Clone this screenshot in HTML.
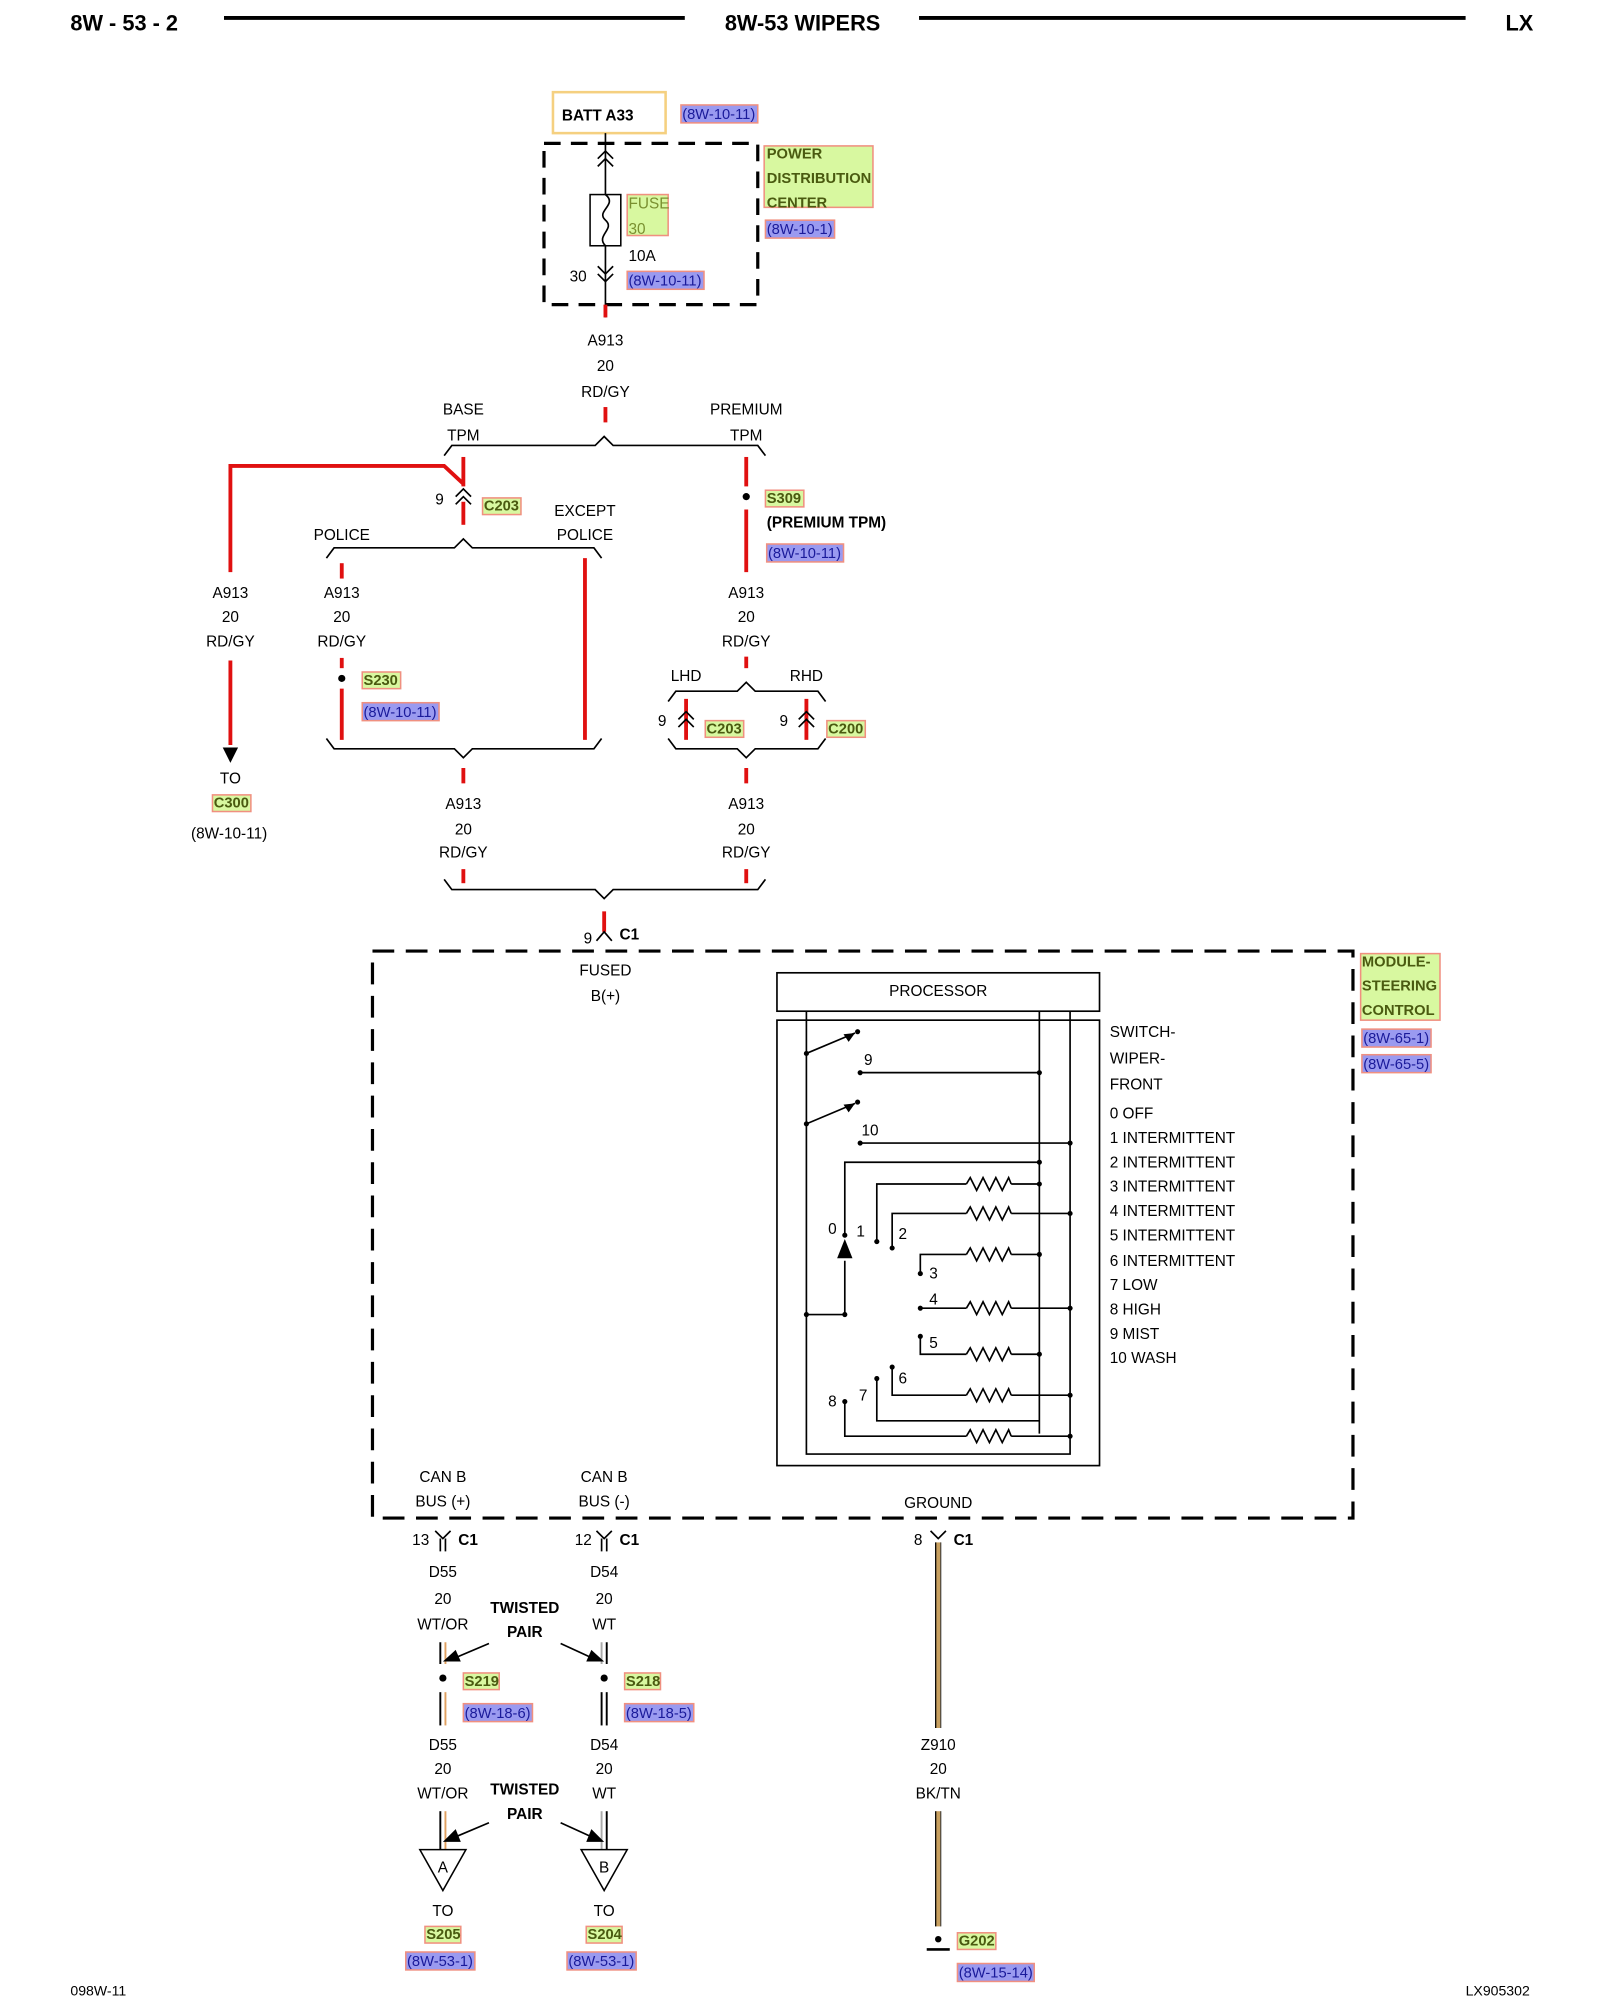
<!DOCTYPE html>
<html><head><meta charset="utf-8"><style>
html,body{margin:0;padding:0;background:#fff;}
svg{display:block;}
text{font-family:"Liberation Sans",sans-serif;font-size:12px;fill:#000;}
.c{text-anchor:middle;}
.b{font-weight:bold;}
.g{fill:#4a5a10;font-weight:bold;font-size:11.5px;}
.bl{fill:#1a1a9a;font-size:11.5px;}
.gb{fill:#d8f8a0;stroke:#f09080;stroke-width:1.2;}
.bb{fill:#9a9af0;stroke:#f09080;stroke-width:1.2;}
.r{stroke:#e01010;stroke-width:3;fill:none;}
.k{stroke:#000;stroke-width:1.3;fill:none;}
</style></head><body>
<svg width="1600" height="2000" viewBox="0 0 1250 1562.5" xmlns="http://www.w3.org/2000/svg">
<!-- header -->
<text x="55" y="24" class="b" style="font-size:17px">8W - 53 - 2</text>
<line x1="175" y1="14" x2="535" y2="14" stroke="#000" stroke-width="3"/>
<text x="627" y="24" class="b c" style="font-size:17px">8W-53 WIPERS</text>
<line x1="718" y1="14" x2="1145" y2="14" stroke="#000" stroke-width="3"/>
<text x="1187" y="24" class="b c" style="font-size:17px">LX</text>

<!-- PDC -->
<rect x="432" y="72" width="88" height="32" fill="none" stroke="#f5d080" stroke-width="2"/>
<text x="439" y="94" class="b">BATT A33</text>
<rect x="532" y="82" width="60" height="14" class="bb"/><text x="533" y="93" class="bl">(8W-10-11)</text>
<rect x="425" y="112" width="167" height="126" fill="none" stroke="#000" stroke-width="2.5" stroke-dasharray="13 8"/>
<line x1="473" y1="104" x2="473" y2="248" class="k"/>
<path d="M467 124 L473 118 L479 124 M467 130 L473 124 L479 130" class="k"/>
<path d="M467 208 L473 214 L479 208 M467 214 L473 220 L479 214" class="k"/>
<rect x="461" y="152" width="24" height="40" fill="#fff" stroke="#000" stroke-width="1.2"/>
<path d="M473 152 C483 160,465 165,473 172 C481 179,465 184,473 192" class="k"/>
<rect x="490" y="152" width="32" height="32" class="gb"/>
<text x="491" y="163" style="fill:#7a9030">FUSE</text><text x="491" y="183" style="fill:#7a9030">30</text>
<text x="491" y="204">10A</text>
<text x="445" y="220">30</text>
<rect x="490" y="212" width="60" height="14" class="bb"/><text x="491" y="223" class="bl">(8W-10-11)</text>
<rect x="597" y="114" width="85" height="48" class="gb"/>
<text x="599" y="124" class="g">POWER</text><text x="599" y="143" class="g">DISTRIBUTION</text><text x="599" y="162" class="g">CENTER</text>
<rect x="598" y="172" width="54" height="14" class="bb"/><text x="599" y="183" class="bl">(8W-10-1)</text>
<line x1="473" y1="238" x2="473" y2="248" class="r"/>
<text x="473" y="270" class="c">A913</text><text x="473" y="290" class="c">20</text><text x="473" y="310" class="c">RD/GY</text>
<line x1="473" y1="318" x2="473" y2="330" class="r"/>

<!-- top brace -->
<path d="M347 356 L353 348 L465 348 L472 341 L479 348 L592 348 L598 356" class="k"/>
<text x="362" y="324" class="c">BASE</text><text x="362" y="344" class="c">TPM</text>
<text x="583" y="324" class="c">PREMIUM</text><text x="583" y="344" class="c">TPM</text>

<!-- base -->
<line x1="362" y1="357" x2="362" y2="380" class="r"/>
<path d="M180 447 L180 364 L347 364 L362 378" class="r"/>
<line x1="180" y1="516" x2="180" y2="582" class="r"/>
<path d="M356 388 L362 382 L368 388 M356 394 L362 388 L368 394" class="k"/>
<line x1="362" y1="392" x2="362" y2="410" class="r"/>
<text x="340" y="394">9</text>
<rect x="377" y="389" width="30" height="13" class="gb"/><text x="378" y="399" class="g">C203</text>
<path d="M255 436 L261 428 L355 428 L362 421 L369 428 L464 428 L470 436" class="k"/>
<text x="267" y="422" class="c">POLICE</text>
<text x="457" y="403" class="c">EXCEPT</text><text x="457" y="422" class="c">POLICE</text>
<line x1="267" y1="440" x2="267" y2="452" class="r"/>
<line x1="457" y1="436" x2="457" y2="578" class="r"/>

<text x="180" y="467" class="c">A913</text><text x="180" y="486" class="c">20</text><text x="180" y="505" class="c">RD/GY</text>
<path d="M174 584 L186 584 L180 596 Z" fill="#000"/>
<text x="180" y="612" class="c">TO</text>
<rect x="166" y="621" width="30" height="13" class="gb"/><text x="167" y="631" class="g">C300</text>
<text x="179" y="655" class="c">(8W-10-11)</text>

<text x="267" y="467" class="c">A913</text><text x="267" y="486" class="c">20</text><text x="267" y="505" class="c">RD/GY</text>
<line x1="267" y1="514" x2="267" y2="522" class="r"/>
<circle cx="267" cy="530" r="2.8" fill="#000"/>
<rect x="283" y="525" width="30" height="13" class="gb"/><text x="284" y="535" class="g">S230</text>
<rect x="283" y="549" width="60" height="14" class="bb"/><text x="284" y="560" class="bl">(8W-10-11)</text>
<line x1="267" y1="538" x2="267" y2="578" class="r"/>
<path d="M255 577 L261 585 L355 585 L362 592 L369 585 L464 585 L470 577" class="k"/>
<line x1="362" y1="600" x2="362" y2="612" class="r"/>
<text x="362" y="632" class="c">A913</text><text x="362" y="652" class="c">20</text><text x="362" y="670" class="c">RD/GY</text>
<line x1="362" y1="679" x2="362" y2="690" class="r"/>

<!-- premium -->
<line x1="583" y1="357" x2="583" y2="380" class="r"/>
<circle cx="583" cy="388" r="2.8" fill="#000"/>
<rect x="598" y="383" width="30" height="13" class="gb"/><text x="599" y="393" class="g">S309</text>
<text x="599" y="412" class="b">(PREMIUM TPM)</text>
<rect x="599" y="425" width="60" height="14" class="bb"/><text x="600" y="436" class="bl">(8W-10-11)</text>
<line x1="583" y1="398" x2="583" y2="447" class="r"/>
<text x="583" y="467" class="c">A913</text><text x="583" y="486" class="c">20</text><text x="583" y="505" class="c">RD/GY</text>
<line x1="583" y1="513" x2="583" y2="522" class="r"/>
<path d="M522 548 L528 540 L576 540 L583 533 L590 540 L639 540 L645 548" class="k"/>
<text x="536" y="532" class="c">LHD</text><text x="630" y="532" class="c">RHD</text>
<line x1="536" y1="546" x2="536" y2="578" class="r"/>
<path d="M530 562 L536 556 L542 562 M530 568 L536 562 L542 568" class="k"/>
<text x="514" y="567">9</text>
<rect x="551" y="563" width="30" height="13" class="gb"/><text x="552" y="573" class="g">C203</text>
<line x1="630" y1="546" x2="630" y2="578" class="r"/>
<path d="M624 562 L630 556 L636 562 M624 568 L630 562 L636 568" class="k"/>
<text x="609" y="567">9</text>
<rect x="646" y="563" width="30" height="13" class="gb"/><text x="647" y="573" class="g">C200</text>
<path d="M522 577 L528 585 L576 585 L583 592 L590 585 L639 585 L645 577" class="k"/>
<line x1="583" y1="600" x2="583" y2="612" class="r"/>
<text x="583" y="632" class="c">A913</text><text x="583" y="652" class="c">20</text><text x="583" y="670" class="c">RD/GY</text>
<line x1="583" y1="679" x2="583" y2="690" class="r"/>

<path d="M347 687 L353 695 L465 695 L472 702 L479 695 L592 695 L598 687" class="k"/>
<line x1="472" y1="712" x2="472" y2="728" class="r"/>
<path d="M466 735 L472 728 L478 735" class="k"/>
<text x="456" y="737">9</text><text x="484" y="734" class="b">C1</text>

<!-- module -->
<rect x="291" y="743" width="766" height="443" fill="none" stroke="#000" stroke-width="2.5" stroke-dasharray="17 9"/>
<text x="473" y="762" class="c">FUSED</text><text x="473" y="782" class="c">B(+)</text>
<rect x="1063" y="745" width="62" height="52" class="gb"/>
<text x="1064" y="755" class="g">MODULE-</text><text x="1064" y="774" class="g">STEERING</text><text x="1064" y="793" class="g">CONTROL</text>
<rect x="1064" y="804" width="54" height="14" class="bb"/><text x="1065" y="815" class="bl">(8W-65-1)</text>
<rect x="1064" y="824" width="54" height="14" class="bb"/><text x="1065" y="835" class="bl">(8W-65-5)</text>

<rect x="607" y="760" width="252" height="30" fill="none" stroke="#000" stroke-width="1.3"/>
<text x="733" y="778" class="c">PROCESSOR</text>
<rect x="607" y="797" width="252" height="348" fill="none" stroke="#000" stroke-width="1.3"/>
<path d="M630 790 L630 1136 L836 1136 L836 790 M812 790 L812 1120" class="k"/>
<!-- switches -->
<g class="k">
<path d="M630 823 L668 807"/><path d="M630 878 L668 862"/>
<path d="M672 838 L812 838"/><path d="M672 893 L836 893"/>
<path d="M660 965 L660 908 L812 908"/>
<path d="M685 970 L685 925 L755 925"/><path d="M790 925 L812 925"/>
<path d="M697 975 L697 948 L755 948"/><path d="M790 948 L836 948"/>
<path d="M719 995 L719 980 L755 980"/><path d="M790 980 L812 980"/>
<path d="M719 1022 L755 1022"/><path d="M790 1022 L836 1022"/>
<path d="M719 1044 L719 1058 L755 1058"/><path d="M790 1058 L812 1058"/>
<path d="M697 1068 L697 1090 L755 1090"/><path d="M790 1090 L836 1090"/>
<path d="M685 1077 L685 1110 L812 1110"/>
<path d="M660 1095 L660 1122 L755 1122"/><path d="M790 1122 L836 1122"/>
<path d="M630 1027 L660 1027 L660 985"/>
<path d="M755 925 l3 -5 l5 10 l5 -10 l5 10 l5 -10 l5 10 l5 -10 l2 5"/>
<path d="M755 948 l3 -5 l5 10 l5 -10 l5 10 l5 -10 l5 10 l5 -10 l2 5"/>
<path d="M755 980 l3 -5 l5 10 l5 -10 l5 10 l5 -10 l5 10 l5 -10 l2 5"/>
<path d="M755 1022 l3 -5 l5 10 l5 -10 l5 10 l5 -10 l5 10 l5 -10 l2 5"/>
<path d="M755 1058 l3 -5 l5 10 l5 -10 l5 10 l5 -10 l5 10 l5 -10 l2 5"/>
<path d="M755 1090 l3 -5 l5 10 l5 -10 l5 10 l5 -10 l5 10 l5 -10 l2 5"/>
<path d="M755 1122 l3 -5 l5 10 l5 -10 l5 10 l5 -10 l5 10 l5 -10 l2 5"/>
</g>
<path d="M660 968 L654 983 L666 983 Z" fill="#000"/>
<path d="M668 807 L659 808 L663 814 Z" fill="#000"/><path d="M668 862 L659 863 L663 869 Z" fill="#000"/>
<g fill="#000">
<circle cx="630" cy="823" r="2"/><circle cx="670" cy="806" r="2"/><circle cx="630" cy="878" r="2"/><circle cx="670" cy="861" r="2"/>
<circle cx="672" cy="838" r="2"/><circle cx="812" cy="838" r="2"/><circle cx="672" cy="893" r="2"/><circle cx="836" cy="893" r="2"/>
<circle cx="812" cy="908" r="2"/><circle cx="812" cy="925" r="2"/><circle cx="836" cy="948" r="2"/><circle cx="812" cy="980" r="2"/>
<circle cx="836" cy="1022" r="2"/><circle cx="812" cy="1058" r="2"/><circle cx="836" cy="1090" r="2"/><circle cx="836" cy="1122" r="2"/>
<circle cx="660" cy="965" r="2"/><circle cx="685" cy="970" r="2"/><circle cx="697" cy="975" r="2"/><circle cx="719" cy="995" r="2"/>
<circle cx="719" cy="1022" r="2"/><circle cx="719" cy="1044" r="2"/><circle cx="697" cy="1068" r="2"/><circle cx="685" cy="1077" r="2"/><circle cx="660" cy="1095" r="2"/>
<circle cx="630" cy="1027" r="2"/><circle cx="660" cy="1027" r="2"/>
</g>
<text x="675" y="832">9</text><text x="673" y="887">10</text>
<text x="647" y="964">0</text><text x="669" y="966">1</text><text x="702" y="968">2</text><text x="726" y="999">3</text>
<text x="726" y="1019">4</text><text x="726" y="1053">5</text><text x="702" y="1081">6</text><text x="671" y="1094">7</text><text x="647" y="1099">8</text>
<text x="867" y="810">SWITCH-</text><text x="867" y="831">WIPER-</text><text x="867" y="851">FRONT</text>
<text x="867" y="874">0 OFF</text><text x="867" y="893">1 INTERMITTENT</text><text x="867" y="912">2 INTERMITTENT</text>
<text x="867" y="931">3 INTERMITTENT</text><text x="867" y="950">4 INTERMITTENT</text><text x="867" y="969">5 INTERMITTENT</text>
<text x="867" y="989">6 INTERMITTENT</text><text x="867" y="1008">7 LOW</text><text x="867" y="1027">8 HIGH</text>
<text x="867" y="1046">9 MIST</text><text x="867" y="1065">10 WASH</text>

<!-- bottom -->
<text x="346" y="1158" class="c">CAN B</text><text x="346" y="1177" class="c">BUS (+)</text>
<text x="472" y="1158" class="c">CAN B</text><text x="472" y="1177" class="c">BUS (-)</text>
<text x="733" y="1178" class="c">GROUND</text>
<path d="M340 1196 L346 1202 L352 1196 M344 1202 L344 1212 M348 1202 L348 1212" class="k"/>
<text x="322" y="1207">13</text><text x="358" y="1207" class="b">C1</text>
<path d="M466 1196 L472 1202 L478 1196 M470 1202 L470 1212 M474 1202 L474 1212" class="k"/>
<text x="449" y="1207">12</text><text x="484" y="1207" class="b">C1</text>
<path d="M727 1196 L733 1202 L739 1196" class="k"/>
<text x="714" y="1207">8</text><text x="745" y="1207" class="b">C1</text>

<text x="346" y="1232" class="c">D55</text><text x="346" y="1253" class="c">20</text><text x="346" y="1273" class="c">WT/OR</text>
<text x="472" y="1232" class="c">D54</text><text x="472" y="1253" class="c">20</text><text x="472" y="1273" class="c">WT</text>
<text x="410" y="1260" class="c b">TWISTED</text><text x="410" y="1279" class="c b">PAIR</text>
<g stroke-width="1.5">
<line x1="344" y1="1283" x2="344" y2="1300" stroke="#000"/><line x1="348" y1="1283" x2="348" y2="1300" stroke="#e0a060"/>
<line x1="344" y1="1322" x2="344" y2="1348" stroke="#000"/><line x1="348" y1="1322" x2="348" y2="1348" stroke="#e0a060"/>
<line x1="470" y1="1283" x2="470" y2="1300" stroke="#aaa"/><line x1="474" y1="1283" x2="474" y2="1300" stroke="#000"/>
<line x1="470" y1="1322" x2="470" y2="1348" stroke="#000"/><line x1="474" y1="1322" x2="474" y2="1348" stroke="#000"/>
<line x1="344" y1="1415" x2="344" y2="1445" stroke="#000"/><line x1="348" y1="1415" x2="348" y2="1445" stroke="#e0a060"/>
<line x1="470" y1="1415" x2="470" y2="1445" stroke="#aaa"/><line x1="474" y1="1415" x2="474" y2="1445" stroke="#000"/>
</g>
<line x1="382" y1="1284" x2="356" y2="1295" class="k"/><path d="M346 1298 L356 1289 L360 1298 Z" fill="#000"/>
<line x1="438" y1="1284" x2="462" y2="1295" class="k"/><path d="M472 1298 L458 1298 L462 1289 Z" fill="#000"/>
<circle cx="346" cy="1311" r="2.8" fill="#000"/><circle cx="472" cy="1311" r="2.8" fill="#000"/>
<rect x="362" y="1307" width="28" height="13" class="gb"/><text x="363" y="1317" class="g">S219</text>
<rect x="488" y="1307" width="28" height="13" class="gb"/><text x="489" y="1317" class="g">S218</text>
<rect x="362" y="1331" width="54" height="14" class="bb"/><text x="363" y="1342" class="bl">(8W-18-6)</text>
<rect x="488" y="1331" width="54" height="14" class="bb"/><text x="489" y="1342" class="bl">(8W-18-5)</text>
<text x="346" y="1367" class="c">D55</text><text x="346" y="1386" class="c">20</text><text x="346" y="1405" class="c">WT/OR</text>
<text x="472" y="1367" class="c">D54</text><text x="472" y="1386" class="c">20</text><text x="472" y="1405" class="c">WT</text>
<text x="410" y="1402" class="c b">TWISTED</text><text x="410" y="1421" class="c b">PAIR</text>
<line x1="382" y1="1424" x2="356" y2="1435" class="k"/><path d="M346 1439 L356 1429 L360 1439 Z" fill="#000"/>
<line x1="438" y1="1424" x2="462" y2="1435" class="k"/><path d="M472 1439 L458 1439 L462 1429 Z" fill="#000"/>
<path d="M328 1445 L364 1445 L346 1477 Z" fill="#fff" stroke="#000" stroke-width="1.2"/><text x="346" y="1463" class="c">A</text>
<path d="M454 1445 L490 1445 L472 1477 Z" fill="#fff" stroke="#000" stroke-width="1.2"/><text x="472" y="1463" class="c">B</text>
<text x="346" y="1497" class="c">TO</text><text x="472" y="1497" class="c">TO</text>
<rect x="332" y="1505" width="28" height="13" class="gb"/><text x="333" y="1515" class="g">S205</text>
<rect x="458" y="1505" width="28" height="13" class="gb"/><text x="459" y="1515" class="g">S204</text>
<rect x="317" y="1525" width="54" height="14" class="bb"/><text x="318" y="1536" class="bl">(8W-53-1)</text>
<rect x="443" y="1525" width="54" height="14" class="bb"/><text x="444" y="1536" class="bl">(8W-53-1)</text>

<g>
<rect x="731" y="1205" width="4" height="145" fill="#c8a060"/><line x1="731" y1="1205" x2="731" y2="1350" stroke="#000" stroke-width="1"/><line x1="735" y1="1205" x2="735" y2="1350" stroke="#333" stroke-width="0.8"/>
<rect x="731" y="1415" width="4" height="90" fill="#c8a060"/><line x1="731" y1="1415" x2="731" y2="1505" stroke="#000" stroke-width="1"/><line x1="735" y1="1415" x2="735" y2="1505" stroke="#333" stroke-width="0.8"/>
</g>
<text x="733" y="1367" class="c">Z910</text><text x="733" y="1386" class="c">20</text><text x="733" y="1405" class="c">BK/TN</text>
<circle cx="733" cy="1515" r="2.5" fill="#000"/>
<line x1="724" y1="1523" x2="742" y2="1523" stroke="#000" stroke-width="2"/>
<rect x="748" y="1510" width="30" height="13" class="gb"/><text x="749" y="1520" class="g">G202</text>
<rect x="748" y="1534" width="60" height="14" class="bb"/><text x="749" y="1545" class="bl">(8W-15-14)</text>

<text x="55" y="1559" style="font-size:11px">098W-11</text>
<text x="1145" y="1559" style="font-size:11px">LX905302</text>
</svg>
</body></html>
